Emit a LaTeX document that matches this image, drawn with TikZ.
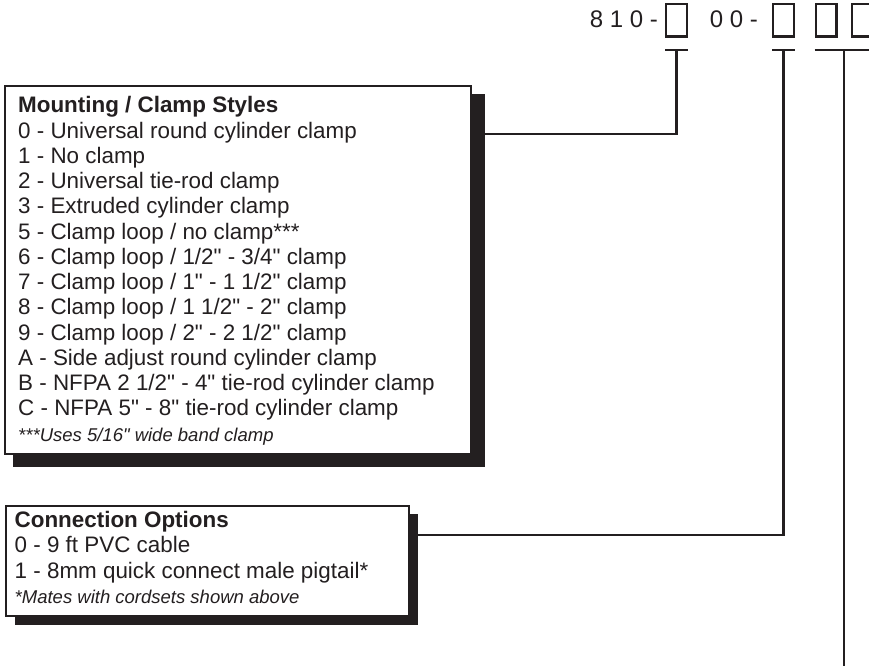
\documentclass[tikz,border=0pt]{standalone}
\usepackage{fontspec}
\setmainfont{Liberation Sans}[Ligatures=TeXOff]
\usetikzlibrary{calc,positioning,backgrounds}

\definecolor{ink}{HTML}{231F20}

\tikzset{
  codebox/.style={draw=ink, line width=2.4pt, minimum width=20.6pt, minimum height=32.6pt, inner sep=0pt},
  lead/.style={draw=ink, line width=2.2pt},
  listbox/.style={draw=ink, line width=2pt, fill=white, anchor=north west, inner sep=0pt},
  listtext/.style={anchor=north west, align=left, inner sep=0pt, text=ink},
  partno/.style={anchor=base east, inner sep=0pt, text=ink, font=\fontsize{24}{28}\selectfont},
}
\newcommand{\notefont}{\fontsize{18.5}{25}\selectfont\itshape}

\begin{document}
\begin{tikzpicture}[x=1pt, y=-1pt]
    \useasboundingbox (0,0) rectangle (869,665);
    \clip (0,0) rectangle (869,665);

    % part number
    \node[partno] (pn1) at (658,27) {8 1 0 -};
    \node[partno] (pn2) at (758,27) {0 0 -};
    \foreach \n/\x in {1/676.5, 2/783.5, 3/826, 4/862.5} {
        \node[codebox] (c\n) at (\x,20.3) {};
    }
    \foreach \n in {1,2} {
        \draw[lead] ([yshift=-12pt]c\n.south west) -- ([yshift=-12pt]c\n.south east);
        \coordinate (t\n) at ([yshift=-12pt]c\n.south);
    }
    \draw[lead] ([yshift=-12pt]c3.south west) -- ([yshift=-12pt,xshift=10pt]c4.south east);
    \coordinate (t3) at ($([yshift=-12pt]c3.south east)!.5!([yshift=-12pt]c4.south west)$);
    \coordinate (cut) at ($(t3)+(0,620)$);

    % option lists
    \node[listbox, minimum width=466pt, minimum height=368pt] (mount) at (4,85) {};
    \node[listtext, font=\fontsize{22.4}{25.25}\selectfont, below right=11.4pt and 14pt of mount.north west] (mounttxt) {%
        \textbf{Mounting / Clamp Styles}\\
        0 - Universal round cylinder clamp\\
        1 - No clamp\\
        2 - Universal tie-rod clamp\\
        3 - Extruded cylinder clamp\\
        5 - Clamp loop / no clamp***\\
        6 - Clamp loop / 1/2" - 3/4" clamp\\
        7 - Clamp loop / 1" - 1 1/2" clamp\\
        8 - Clamp loop / 1 1/2" - 2" clamp\\
        9 - Clamp loop / 2" - 2 1/2" clamp\\
        A - Side adjust round cylinder clamp\\
        B - NFPA 2 1/2" - 4" tie-rod cylinder clamp\\
        C - NFPA 5" - 8" tie-rod cylinder clamp\\
        {\notefont ***Uses 5/16" wide band clamp}};

    \node[listbox, minimum width=403pt, minimum height=110pt] (conn) at (5,505) {};
    \node[listtext, font=\fontsize{22.4}{25.5}\selectfont, below right=6pt and 9.5pt of conn.north west] (conntxt) {%
        \textbf{Connection Options}\\
        0 - 9 ft PVC cable\\
        1 - 8mm quick connect male pigtail*\\
        {\notefont *Mates with cordsets shown above}};

    \begin{scope}[on background layer]
        \fill[ink] ([shift={(9pt,-9pt)}]mount.north west) rectangle ([shift={(13pt,-12pt)}]mount.south east);
        \fill[ink] ([shift={(10pt,-9pt)}]conn.north west) rectangle ([shift={(8pt,-8pt)}]conn.south east);
    \end{scope}

    % leads
    \draw[lead] (t1) |- ([yshift=-49pt]mount.north east);
    \draw[lead] (t2) |- ([yshift=-30pt]conn.north east);
    \draw[lead] (t3) -- (cut);
\end{tikzpicture}
\end{document}
